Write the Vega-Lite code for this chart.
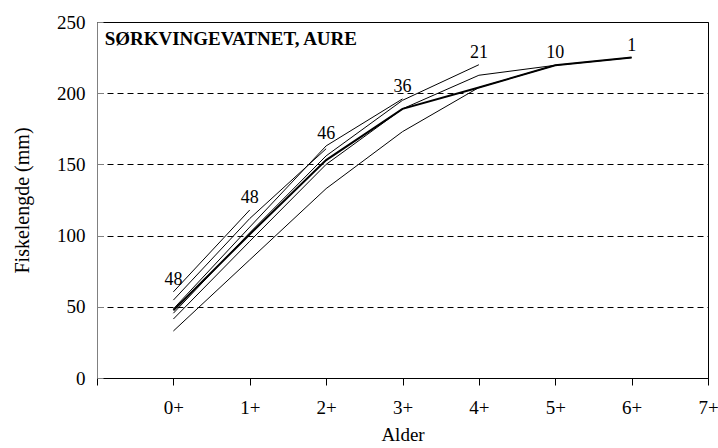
{
  "$schema": "https://vega.github.io/schema/vega-lite/v6.json",
  "autosize": "none",
  "width": 611,
  "height": 356,
  "padding": {"left": 97, "top": 22, "right": 10, "bottom": 70},
  "background": "white",
  "config": {
    "font": "Liberation Serif, Times New Roman, serif",
    "view": {"stroke": "black", "strokeWidth": 1},
    "axis": {
      "labelFont": "Liberation Serif, Times New Roman, serif",
      "titleFont": "Liberation Serif, Times New Roman, serif",
      "labelFontSize": 19,
      "titleFontSize": 19,
      "titleFontWeight": "normal",
      "labelColor": "black",
      "titleColor": "black"
    },
    "text": {"font": "Liberation Serif, Times New Roman, serif"}
  },
  "datasets": {
    "lengde": [
      {"gruppe": "A", "type": "Aldersgruppe", "alder": 0, "lengde": 60.5},
      {"gruppe": "A", "type": "Aldersgruppe", "alder": 1, "lengde": 118},
      {"gruppe": "B", "type": "Aldersgruppe", "alder": 0, "lengde": 54.7},
      {"gruppe": "B", "type": "Aldersgruppe", "alder": 1, "lengde": 112},
      {"gruppe": "B", "type": "Aldersgruppe", "alder": 2, "lengde": 161},
      {"gruppe": "C", "type": "Aldersgruppe", "alder": 0, "lengde": 48.5},
      {"gruppe": "C", "type": "Aldersgruppe", "alder": 1, "lengde": 106},
      {"gruppe": "C", "type": "Aldersgruppe", "alder": 2, "lengde": 163},
      {"gruppe": "C", "type": "Aldersgruppe", "alder": 3, "lengde": 196},
      {"gruppe": "D", "type": "Aldersgruppe", "alder": 0, "lengde": 45.5},
      {"gruppe": "D", "type": "Aldersgruppe", "alder": 1, "lengde": 102},
      {"gruppe": "D", "type": "Aldersgruppe", "alder": 2, "lengde": 156},
      {"gruppe": "D", "type": "Aldersgruppe", "alder": 3, "lengde": 195},
      {"gruppe": "D", "type": "Aldersgruppe", "alder": 4, "lengde": 220},
      {"gruppe": "E", "type": "Aldersgruppe", "alder": 0, "lengde": 41.4},
      {"gruppe": "E", "type": "Aldersgruppe", "alder": 1, "lengde": 96},
      {"gruppe": "E", "type": "Aldersgruppe", "alder": 2, "lengde": 150},
      {"gruppe": "E", "type": "Aldersgruppe", "alder": 3, "lengde": 189},
      {"gruppe": "E", "type": "Aldersgruppe", "alder": 4, "lengde": 212.6},
      {"gruppe": "E", "type": "Aldersgruppe", "alder": 5, "lengde": 219.6},
      {"gruppe": "F", "type": "Aldersgruppe", "alder": 0, "lengde": 33},
      {"gruppe": "F", "type": "Aldersgruppe", "alder": 1, "lengde": 83},
      {"gruppe": "F", "type": "Aldersgruppe", "alder": 2, "lengde": 133},
      {"gruppe": "F", "type": "Aldersgruppe", "alder": 3, "lengde": 173},
      {"gruppe": "F", "type": "Aldersgruppe", "alder": 4, "lengde": 204},
      {"gruppe": "F", "type": "Aldersgruppe", "alder": 5, "lengde": 219.6},
      {"gruppe": "F", "type": "Aldersgruppe", "alder": 6, "lengde": 225},
      {"gruppe": "Snitt", "type": "Snitt", "alder": 0, "lengde": 47.5},
      {"gruppe": "Snitt", "type": "Snitt", "alder": 1, "lengde": 101},
      {"gruppe": "Snitt", "type": "Snitt", "alder": 2, "lengde": 153},
      {"gruppe": "Snitt", "type": "Snitt", "alder": 3, "lengde": 189},
      {"gruppe": "Snitt", "type": "Snitt", "alder": 4, "lengde": 204},
      {"gruppe": "Snitt", "type": "Snitt", "alder": 5, "lengde": 219.6},
      {"gruppe": "Snitt", "type": "Snitt", "alder": 6, "lengde": 225}
    ],
    "antall": [
      {"alder": 0, "n": 48},
      {"alder": 1, "n": 48},
      {"alder": 2, "n": 46},
      {"alder": 3, "n": 36},
      {"alder": 4, "n": 21},
      {"alder": 5, "n": 10},
      {"alder": 6, "n": 1}
    ]
  },
  "layer": [
    {
      "data": {"name": "lengde"},
      "mark": {"type": "line", "color": "black"},
      "encoding": {
        "x": {
          "field": "alder",
          "type": "quantitative",
          "scale": {"domain": [-1, 7], "nice": false, "zero": false},
          "axis": {
            "title": "Alder",
            "values": [-1, 0, 1, 2, 3, 4, 5, 6, 7],
            "labelExpr": "datum.value < 0 ? '' : datum.value + '+'",
            "grid": false,
            "domainColor": "black",
            "tickColor": "black",
            "tickSize": 7,
            "labelPadding": 13,
            "titlePadding": 8,
            "labelFlush": false
          }
        },
        "y": {
          "field": "lengde",
          "type": "quantitative",
          "scale": {"domain": [0, 250], "nice": false},
          "axis": {
            "title": "Fiskelengde (mm)",
            "titleFontSize": 20,
            "values": [0, 50, 100, 150, 200, 250],
            "grid": true,
            "gridColor": "black",
            "gridDash": [6, 4],
            "gridWidth": 1,
            "domainColor": "#808080",
            "tickColor": "#808080",
            "tickSize": -6,
            "labelPadding": 18,
            "titlePadding": 24,
            "labelFlush": false
          }
        },
        "detail": {"field": "gruppe", "type": "nominal"},
        "strokeWidth": {
          "field": "type",
          "type": "nominal",
          "scale": {"domain": ["Aldersgruppe", "Snitt"], "range": [1, 2]},
          "legend": null
        }
      }
    },
    {
      "data": {"name": "lengde"},
      "transform": [
        {"aggregate": [{"op": "max", "field": "lengde", "as": "topp"}], "groupby": ["alder"]},
        {"lookup": "alder", "from": {"data": {"name": "antall"}, "key": "alder", "fields": ["n"]}}
      ],
      "mark": {"type": "text", "fontSize": 18, "color": "black", "baseline": "middle", "dy": -12},
      "encoding": {
        "x": {"field": "alder", "type": "quantitative"},
        "y": {"field": "topp", "type": "quantitative"},
        "text": {"field": "n", "type": "quantitative"}
      }
    },
    {
      "data": {"values": [{}]},
      "mark": {"type": "text", "text": "SØRKVINGEVATNET, AURE", "fontSize": 19, "fontWeight": "bold", "color": "black", "align": "left", "baseline": "middle"},
      "encoding": {
        "x": {"datum": -0.9},
        "y": {"datum": 238}
      }
    }
  ]
}
